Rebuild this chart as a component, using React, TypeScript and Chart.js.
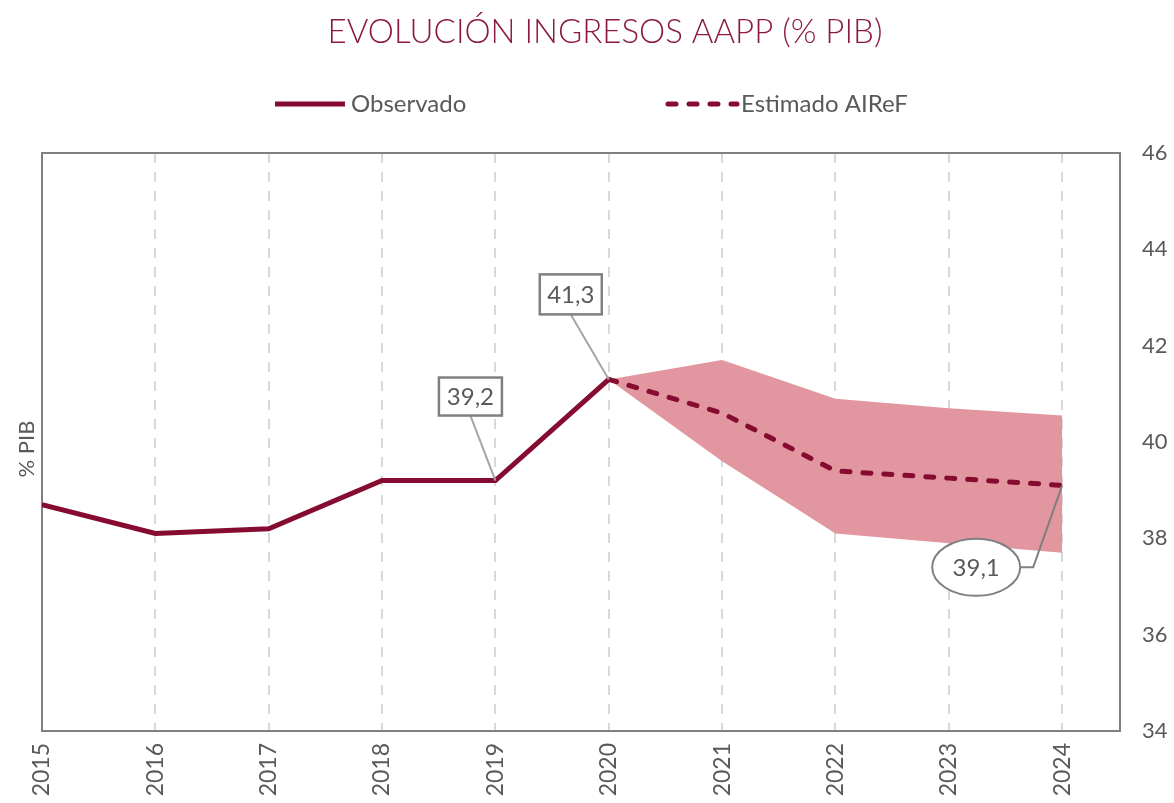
import React, { useEffect, useRef } from 'react';
import { Chart, registerables } from 'chart.js';

Chart.register(...registerables);

const TITLE = 'EVOLUCIÓN INGRESOS AAPP (% PIB)';
const Y_TITLE = '% PIB';
const LEGEND_OBS = 'Observado';
const LEGEND_EST = 'Estimado AIReF';

const years = [2015, 2016, 2017, 2018, 2019, 2020, 2021, 2022, 2023, 2024];
const observed = [38.7, 38.1, 38.2, 39.2, 39.2, 41.3, null, null, null, null];
const estimated = [null, null, null, null, null, 41.3, 40.6, 39.4, 39.25, 39.1];
const upperBand = [null, null, null, null, null, 41.3, 41.7, 40.9, 40.7, 40.55];
const lowerBand = [null, null, null, null, null, 41.3, 39.6, 38.1, 37.9, 37.7];
const yTicks = [34, 36, 38, 40, 42, 44, 46];

const callouts = [
  { year: 2019, value: 39.2, text: '39,2', shape: 'rect', dx: -25, dy: -84, w: 63, h: 38 },
  { year: 2020, value: 41.3, text: '41,3', shape: 'rect', dx: -38, dy: -85, w: 62, h: 40 },
  { year: 2024, value: 39.1, text: '39,1', shape: 'ellipse', dx: -86, dy: 82, w: 88, h: 57 },
];

const WINE = '#860B30';
const BAND = '#E2969F';
const GREY_TEXT = '#595959';
const FRAME = '#808080';

const toPoints = (arr: (number | null)[]) => years.map((yr, i) => ({ x: yr, y: arr[i] }));

const decor = {
  id: 'decor',
  beforeDraw(chart: any) {
    const ctx = chart.ctx;
    ctx.save();
    ctx.fillStyle = '#ffffff';
    ctx.fillRect(0, 0, chart.width, chart.height);
    ctx.restore();
  },
  beforeDatasetsDraw(chart: any) {
    const { ctx, chartArea } = chart;
    ctx.save();
    ctx.setLineDash([]);
    ctx.strokeStyle = FRAME;
    ctx.lineWidth = 2;
    ctx.strokeRect(chartArea.left, chartArea.top, chartArea.right - chartArea.left, chartArea.bottom - chartArea.top);
    ctx.restore();
  },
  afterDraw(chart: any) {
    const { ctx, scales } = chart;
    const xs = scales.x;
    const ys = scales.y;
    ctx.save();
    // title
    ctx.font = '300 33px Lato';
    ctx.fillStyle = '#8B1A3E';
    ctx.textAlign = 'center';
    ctx.textBaseline = 'alphabetic';
    ctx.fillText(TITLE, 605, 43);

    // legend
    const ly = 104;
    ctx.lineWidth = 5;
    ctx.strokeStyle = WINE;
    ctx.setLineDash([]);
    ctx.lineCap = 'butt';
    ctx.beginPath();
    ctx.moveTo(275, ly);
    ctx.lineTo(345, ly);
    ctx.stroke();
    ctx.lineCap = 'round';
    ctx.setLineDash([8, 13]);
    ctx.beginPath();
    ctx.moveTo(668, ly);
    ctx.lineTo(737, ly);
    ctx.stroke();
    ctx.setLineDash([]);
    ctx.font = '24px Lato';
    ctx.fillStyle = GREY_TEXT;
    ctx.textAlign = 'left';
    ctx.textBaseline = 'middle';
    ctx.fillText(LEGEND_OBS, 351, ly);
    ctx.fillText(LEGEND_EST, 741, ly);

    // y title
    ctx.save();
    ctx.font = '22px Lato';
    ctx.translate(27, (chart.chartArea.top + chart.chartArea.bottom) / 2 + 7);
    ctx.rotate(-Math.PI / 2);
    ctx.textAlign = 'center';
    ctx.textBaseline = 'middle';
    ctx.fillText(Y_TITLE, 0, 0);
    ctx.restore();

    // callouts
    callouts.forEach((c) => {
      const px = xs.getPixelForValue(c.year);
      const py = ys.getPixelForValue(c.value);
      const cx = px + c.dx;
      const cy = py + c.dy;
      ctx.setLineDash([]);
      ctx.lineCap = 'butt';
      if (c.shape === 'rect') {
        ctx.strokeStyle = '#A6A6A6';
        ctx.lineWidth = 2;
        ctx.beginPath();
        ctx.moveTo(cx, cy + c.h / 2);
        ctx.lineTo(px, py);
        ctx.stroke();
        ctx.fillStyle = '#ffffff';
        ctx.fillRect(cx - c.w / 2, cy - c.h / 2, c.w, c.h);
        ctx.strokeStyle = FRAME;
        ctx.lineWidth = 2.5;
        ctx.strokeRect(cx - c.w / 2, cy - c.h / 2, c.w, c.h);
      } else {
        ctx.strokeStyle = '#7F7F7F';
        ctx.lineWidth = 2;
        ctx.beginPath();
        ctx.moveTo(cx + c.w / 2, cy);
        ctx.lineTo(cx + c.w / 2 + 13, cy);
        ctx.lineTo(px, py);
        ctx.stroke();
        ctx.beginPath();
        ctx.ellipse(cx, cy, c.w / 2, c.h / 2, 0, 0, Math.PI * 2);
        ctx.fillStyle = '#ffffff';
        ctx.fill();
        ctx.strokeStyle = FRAME;
        ctx.lineWidth = 2;
        ctx.stroke();
      }
      ctx.font = '24px Lato';
      ctx.fillStyle = GREY_TEXT;
      ctx.textAlign = 'center';
      ctx.textBaseline = 'middle';
      ctx.fillText(c.text, cx, cy + 1);
    });
    ctx.restore();
  },
};

export default function App() {
  const canvasRef = useRef<HTMLCanvasElement | null>(null);

  useEffect(() => {
    document.body.style.margin = '0';
    const canvas = canvasRef.current;
    if (!canvas) return;
    const chart = new Chart(canvas, {
      type: 'line',
      data: {
        datasets: [
          {
            label: LEGEND_OBS,
            data: toPoints(observed),
            borderColor: WINE,
            borderWidth: 5,
            pointRadius: 0,
            fill: false,
            spanGaps: false,
          },
          {
            label: LEGEND_EST,
            data: toPoints(estimated),
            borderColor: WINE,
            borderWidth: 5,
            borderDash: [8, 13],
            borderCapStyle: 'round',
            pointRadius: 0,
            fill: false,
          },
          {
            label: 'upper',
            data: toPoints(upperBand),
            borderWidth: 0,
            borderColor: 'rgba(0,0,0,0)',
            backgroundColor: BAND,
            pointRadius: 0,
            fill: '+1',
          },
          {
            label: 'lower',
            data: toPoints(lowerBand),
            borderWidth: 0,
            borderColor: 'rgba(0,0,0,0)',
            pointRadius: 0,
            fill: false,
          },
        ],
      } as any,
      options: {
        responsive: false,
        animation: false,
        layout: { padding: { left: 42, top: 153, right: 0, bottom: 0 } },
        plugins: {
          legend: { display: false },
          title: { display: false },
          tooltip: { enabled: false },
        },
        scales: {
          x: {
            type: 'linear',
            position: 'bottom',
            min: 2015,
            max: 2024.51,
            afterBuildTicks: (axis: any) => {
              axis.ticks = years.map((v) => ({ value: v }));
            },
            afterFit: (axis: any) => {
              axis.height = 72;
            },
            grid: {
              display: true,
              drawTicks: false,
              color: '#D9D9D9',
              lineWidth: 2,
            },
            border: { display: false, dash: [10, 9] },
            ticks: {
              autoSkip: false,
              minRotation: 90,
              maxRotation: 90,
              padding: 12,
              color: GREY_TEXT,
              font: { family: 'Lato', size: 23 },
              callback: (v: any) => String(v),
            },
          },
          y: {
            type: 'linear',
            position: 'right',
            min: 34,
            max: 46,
            afterBuildTicks: (axis: any) => {
              axis.ticks = yTicks.map((v) => ({ value: v }));
            },
            afterFit: (axis: any) => {
              axis.width = 54;
            },
            grid: { display: false, drawTicks: false },
            border: { display: false },
            ticks: {
              padding: 22,
              color: GREY_TEXT,
              font: { family: 'Lato', size: 22 },
              callback: (v: any) => String(v),
            },
          },
        },
      } as any,
      plugins: [decor],
    });
    return () => chart.destroy();
  }, []);

  return (
    <div style={{ width: 1174, height: 803, position: 'relative' }}>
      <canvas ref={canvasRef} width={1174} height={803} />
    </div>
  );
}
